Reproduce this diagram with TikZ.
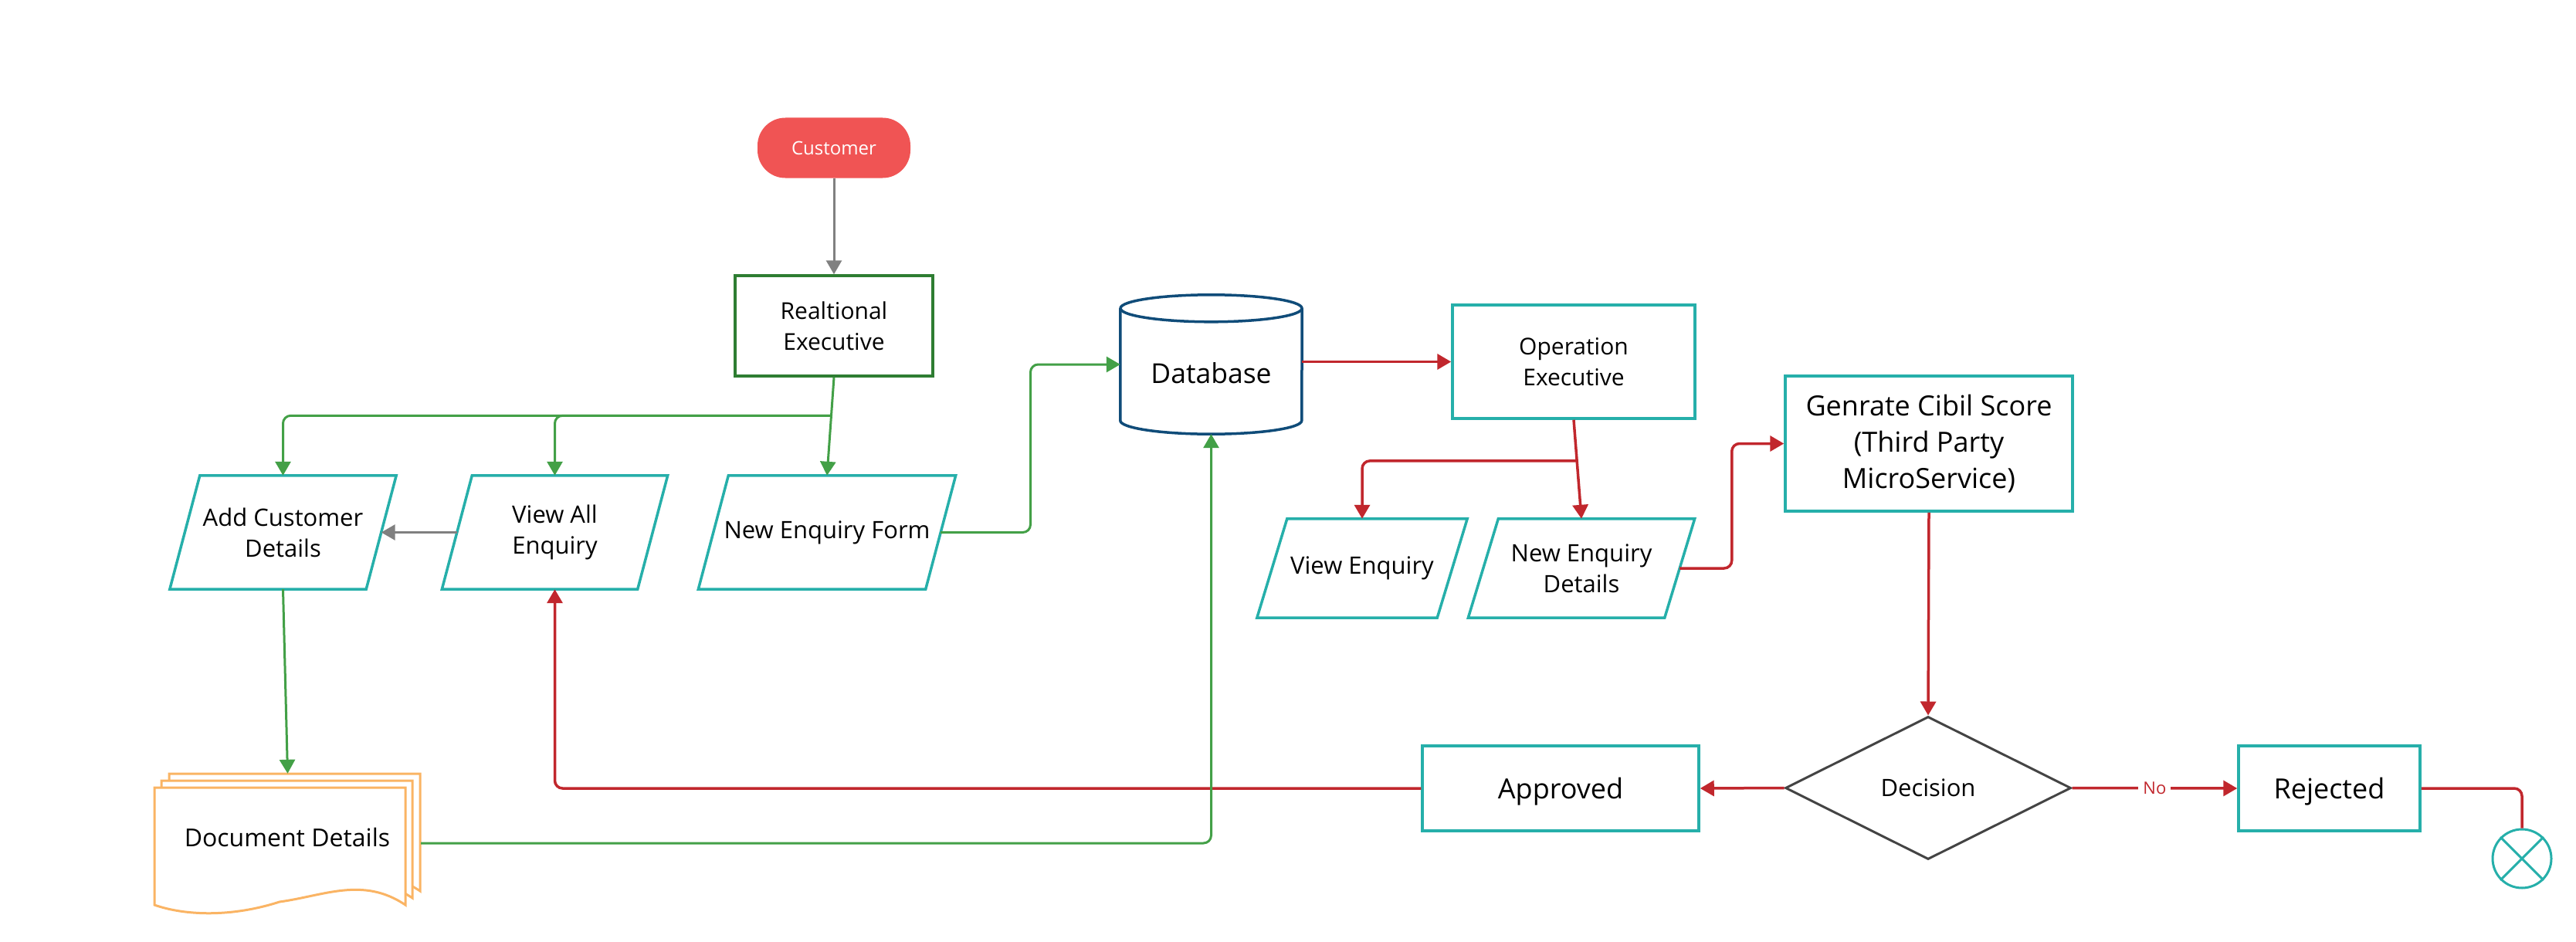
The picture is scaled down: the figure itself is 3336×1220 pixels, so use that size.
\documentclass[tikz,border=0pt]{standalone}
\usepackage{fontspec}
\setmainfont{Open Sans}
\usetikzlibrary{arrows.meta,shapes.geometric,calc}
\definecolor{tealc}{RGB}{38,175,170}
\definecolor{gconn}{RGB}{67,160,71}
\definecolor{dgreen}{RGB}{46,125,50}
\definecolor{rconn}{RGB}{193,39,45}
\definecolor{grayc}{RGB}{128,128,128}
\definecolor{dgray}{RGB}{68,68,68}
\definecolor{dbblue}{RGB}{16,76,121}
\definecolor{orangec}{RGB}{250,180,100}
\definecolor{custred}{RGB}{240,84,84}
\newcommand\fsz[2]{\fontsize{#1}{#2}\selectfont}
\newcommand\drawpara[1]{%
  \draw[paradraw] ([xshift=19.5pt]#1.north west) -- ([xshift=19.5pt]#1.north east) -- ([xshift=-19.5pt]#1.south east) -- ([xshift=-19.5pt]#1.south west) -- cycle;}
\newcommand\docpage[2]{%
  \draw[docstyle, shift={(#1,#2)}] (200,1172) -- (200,1020) -- (525,1020) -- (525,1172)
    .. controls (470,1135) and (420,1160) .. (362,1168)
    .. controls (300,1188) and (240,1186) .. (200,1172) -- cycle;}
\tikzset{
  box/.style={rectangle, draw=tealc, line width=3.5pt, fill=white, align=center, inner sep=0pt, font=\fsz{30}{40}},
  parabox/.style={rectangle, align=center, inner sep=0pt, font=\fsz{31}{40}, minimum height=147pt},
  paradraw/.style={draw=tealc, line width=3.5pt, line join=miter},
  docstyle/.style={draw=orangec, fill=white, line width=3pt},
  tip/.style={-{Triangle[length=18pt,width=20pt]}},
  garrow/.style={draw=gconn, line width=3pt, tip},
  rarrow/.style={draw=rconn, line width=3.5pt, tip},
  rline/.style={draw=rconn, line width=3.5pt},
  grayarrow/.style={draw=grayc, line width=3pt, tip},
  nolabel/.style={fill=white, text=rconn, font=\fsz{22}{26}, inner sep=6pt},
}
\begin{document}
\begin{tikzpicture}[x=1pt,y=-1pt]
\useasboundingbox (0,0) rectangle (3336,1220);

% nodes
\node[rectangle, fill=custred, rounded corners=36pt, minimum width=198pt, minimum height=78pt, text=white, font=\fsz{24}{28}, inner sep=0pt] (cust) at (1080,191.5) {Customer};
\node[rectangle, draw=dgreen, line width=3.5pt, minimum width=256pt, minimum height=130pt, align=center, inner sep=0pt, font=\fsz{30}{40}] (rel) at (1080,422) {Realtional\\Executive};

\node[rectangle, minimum width=235pt, minimum height=180pt, inner sep=0pt] (db) at (1568.5,472) {};
\draw[dbblue, line width=3.5pt] ([yshift=-17.5pt]db.north west) -- ([yshift=17.5pt]db.south west)
  arc[start angle=180, end angle=360, x radius=117.5pt, y radius=17.5pt] -- ([yshift=-17.5pt]db.north east);
\draw[dbblue, line width=3.5pt] ([yshift=-17.5pt]db.north) ellipse [x radius=117.5pt, y radius=17.5pt];
\node[font=\fsz{35.5}{40}] (dbt) at (1568.5,483) {Database};

\node[parabox, minimum width=254pt] (acd) at (366.5,689.5) {Add Customer\\Details};
\node[parabox, minimum width=253pt] (vae) at (718.5,689.5) {View All\\Enquiry};
\node[parabox, minimum width=294pt] (nef) at (1071,689.5) {New Enquiry Form};
\drawpara{acd}
\drawpara{vae}
\drawpara{nef}

\node[box, minimum width=314pt, minimum height=147pt] (opex) at (2038,468.5) {Operation\\Executive};
\node[parabox, minimum width=233pt, minimum height=128pt] (ve) at (1764,736) {View Enquiry};
\node[parabox, minimum width=254pt, minimum height=128pt] (ned) at (2048,736) {New Enquiry\\Details};
\drawpara{ve}
\drawpara{ned}
\node[box, minimum width=372pt, minimum height=175pt, font=\fsz{36}{47}] (gen) at (2498,574.5) {Genrate Cibil Score\\(Third Party\\MicroService)};

\node[diamond, draw=dgray, line width=3pt, minimum width=370pt, minimum height=185pt, aspect=2, inner sep=0pt, font=\fsz{31}{36}] (dec) at (2497,1020.5) {Decision};
\node[box, minimum width=358pt, minimum height=110pt, font=\fsz{36}{40}, text depth=0pt] (appr) at (2021,1021) {Approved};
\node[box, minimum width=235pt, minimum height=110pt, font=\fsz{36}{40}, text depth=0pt] (rej) at (3016.5,1021) {Rejected};
\node[circle, draw=tealc, line width=3pt, minimum size=76pt, inner sep=0pt] (endc) at (3266,1112) {};
\draw[tealc, line width=3pt] (endc.north west) -- (endc.south east) (endc.north east) -- (endc.south west);

% document stack
\docpage{19}{-18}
\docpage{9}{-9}
\docpage{0}{0}
\node[rectangle, minimum width=345pt, minimum height=180pt, inner sep=0pt] (doc) at (372.5,1092) {};
\node[font=\fsz{32}{36}] (doct) at (372,1084) {Document Details};

% connectors
\draw[grayarrow] (cust.south) -- (rel.north);
\draw[garrow] (rel.south) -- (nef.north);
\path (rel.south) -- (nef.north) coordinate[pos=0.39] (j1);
\draw[garrow, rounded corners=10pt] (j1) -| (acd.north);
\draw[garrow, rounded corners=10pt] (j1) -| (vae.north);
\draw[grayarrow] (vae.west) -- (acd.east);
\coordinate (k1) at ($(nef.east)!0.5!(db.west)$);
\draw[garrow, rounded corners=10pt] (nef.east) -| (k1 |- db.west) -- (db.west);
\draw[garrow] (acd.south) -- (doc.north);

\draw[rarrow] (db.east |- opex.west) -- (opex.west);
\draw[rarrow] (opex.south) -- (ned.north);
\path (opex.south) -- (ned.north) coordinate[pos=0.415] (j2);
\draw[rarrow, rounded corners=10pt] (j2) -| (ve.north);
\coordinate (k2) at ($(ned.east)!0.5!(gen.west)$);
\draw[rarrow, rounded corners=10pt] (ned.east) -| (k2 |- gen.west) -- (gen.west);
\draw[rarrow] (gen.south) -- (dec.north);
\draw[rarrow] (dec.west) -- (appr.east);
\draw[rarrow] (dec.east) -- node[nolabel] {No} (rej.west);
\draw[rline, rounded corners=10pt] (rej.east) -| (endc.north);
\draw[rarrow, rounded corners=10pt] (appr.west) -| (vae.south);

\draw[garrow, rounded corners=10pt] (doc.east) -| (db.south);
\end{tikzpicture}
\end{document}
